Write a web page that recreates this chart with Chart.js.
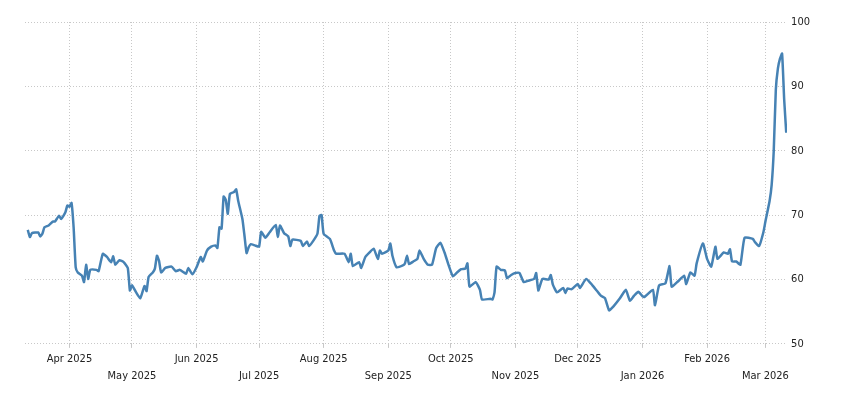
<!DOCTYPE html>
<html>
<head>
<meta charset="utf-8">
<script src="https://cdn.jsdelivr.net/npm/chart.js@4"></script>
<style>
  html, body { margin: 0; padding: 0; background: #fff; }
  #wrap { width: 850px; height: 400px; }
</style>
</head>
<body>
<div id="wrap"><canvas id="myChart" width="850" height="400"></canvas></div>
<script>
const dates = [
    "2025-03-12", "2025-03-13", "2025-03-14", "2025-03-17", "2025-03-18", "2025-03-19", "2025-03-20", "2025-03-22",
    "2025-03-24", "2025-03-25", "2025-03-27", "2025-03-28", "2025-03-30", "2025-03-31", "2025-04-01", "2025-04-02",
    "2025-04-03", "2025-04-04", "2025-04-05", "2025-04-07", "2025-04-08", "2025-04-09", "2025-04-10", "2025-04-11",
    "2025-04-14", "2025-04-15", "2025-04-17", "2025-04-19", "2025-04-21", "2025-04-22", "2025-04-23", "2025-04-25",
    "2025-04-27", "2025-04-29", "2025-04-30", "2025-05-01", "2025-05-03", "2025-05-05", "2025-05-07", "2025-05-08",
    "2025-05-09", "2025-05-11", "2025-05-12", "2025-05-13", "2025-05-14", "2025-05-15", "2025-05-17", "2025-05-20",
    "2025-05-22", "2025-05-24", "2025-05-27", "2025-05-28", "2025-05-30", "2025-06-01", "2025-06-03", "2025-06-04",
    "2025-06-06", "2025-06-08", "2025-06-10", "2025-06-11", "2025-06-12", "2025-06-13", "2025-06-14", "2025-06-15",
    "2025-06-16", "2025-06-17", "2025-06-19", "2025-06-20", "2025-06-21", "2025-06-23", "2025-06-24", "2025-06-25",
    "2025-06-26", "2025-06-27", "2025-06-29", "2025-07-01", "2025-07-02", "2025-07-04", "2025-07-06", "2025-07-09",
    "2025-07-10", "2025-07-11", "2025-07-13", "2025-07-15", "2025-07-16", "2025-07-17", "2025-07-21", "2025-07-22",
    "2025-07-24", "2025-07-25", "2025-07-27", "2025-07-29", "2025-07-30", "2025-07-31", "2025-08-01", "2025-08-04",
    "2025-08-06", "2025-08-07", "2025-08-11", "2025-08-13", "2025-08-14", "2025-08-15", "2025-08-18", "2025-08-19",
    "2025-08-21", "2025-08-23", "2025-08-25", "2025-08-27", "2025-08-28", "2025-08-29", "2025-09-01", "2025-09-02",
    "2025-09-03", "2025-09-05", "2025-09-08", "2025-09-09", "2025-09-10", "2025-09-11", "2025-09-13", "2025-09-15",
    "2025-09-16", "2025-09-18", "2025-09-20", "2025-09-22", "2025-09-24", "2025-09-26", "2025-09-28", "2025-09-30",
    "2025-10-02", "2025-10-04", "2025-10-06", "2025-10-08", "2025-10-09", "2025-10-10", "2025-10-13", "2025-10-15",
    "2025-10-16", "2025-10-20", "2025-10-21", "2025-10-22", "2025-10-23", "2025-10-25", "2025-10-27", "2025-10-28",
    "2025-10-30", "2025-11-01", "2025-11-03", "2025-11-05", "2025-11-07", "2025-11-10", "2025-11-11", "2025-11-12",
    "2025-11-14", "2025-11-17", "2025-11-18", "2025-11-19", "2025-11-21", "2025-11-24", "2025-11-25", "2025-11-26",
    "2025-11-28", "2025-12-01", "2025-12-02", "2025-12-05", "2025-12-08", "2025-12-10", "2025-12-12", "2025-12-14",
    "2025-12-16", "2025-12-18", "2025-12-21", "2025-12-24", "2025-12-26", "2025-12-28", "2025-12-30", "2026-01-01",
    "2026-01-02", "2026-01-06", "2026-01-07", "2026-01-09", "2026-01-12", "2026-01-14", "2026-01-15", "2026-01-18",
    "2026-01-21", "2026-01-22", "2026-01-24", "2026-01-26", "2026-01-27", "2026-01-30", "2026-02-01", "2026-02-03",
    "2026-02-05", "2026-02-06", "2026-02-09", "2026-02-11", "2026-02-12", "2026-02-13", "2026-02-15", "2026-02-17",
    "2026-02-19", "2026-02-23", "2026-02-24", "2026-02-26", "2026-02-28", "2026-03-01", "2026-03-03", "2026-03-04",
    "2026-03-05", "2026-03-06", "2026-03-07", "2026-03-08", "2026-03-09", "2026-03-10", "2026-03-11"
];

const prices = [
    67.7, 66.6, 67.2, 67.3, 66.7, 67.1, 68.1, 68.4,
    69.0, 69.0, 69.9, 69.4, 70.4, 71.5, 71.3, 71.9,
    68.1, 61.9, 61.1, 60.6, 59.6, 62.3, 60.1, 61.5,
    61.5, 61.3, 64.0, 63.5, 62.7, 63.6, 62.3, 63.0,
    62.7, 61.8, 58.3, 59.1, 58.0, 57.1, 59.0, 58.2,
    60.4, 61.1, 61.7, 63.7, 62.9, 61.1, 61.8, 62.0,
    61.3, 61.5, 60.9, 61.8, 60.8, 61.9, 63.5, 62.8,
    64.5, 65.1, 65.3, 64.9, 68.1, 67.9, 72.9, 72.4,
    70.2, 73.3, 73.6, 74.0, 72.2, 69.4, 66.8, 64.1,
    65.0, 65.5, 65.3, 65.1, 67.4, 66.5, 67.3, 68.5,
    66.6, 68.4, 67.2, 66.7, 65.2, 66.2, 66.0, 65.2,
    65.9, 65.2, 66.0, 67.1, 69.9, 70.0, 67.1, 66.3,
    64.5, 64.0, 64.0, 62.7, 64.0, 62.1, 62.7, 61.8,
    63.5, 64.2, 64.8, 63.2, 64.5, 64.0, 64.5, 65.6,
    63.7, 61.9, 62.2, 62.5, 63.7, 62.4, 62.8, 63.2,
    64.5, 63.2, 62.3, 62.3, 64.9, 65.7, 64.2, 62.2,
    60.5, 61.1, 61.6, 61.7, 62.5, 58.9, 59.6, 58.4,
    56.9, 57.0, 56.9, 58.0, 62.0, 61.5, 61.4, 60.2,
    60.7, 61.0, 61.0, 59.6, 59.8, 60.1, 61.0, 58.3,
    60.1, 60.0, 60.7, 59.2, 58.0, 58.7, 57.9, 58.6,
    58.5, 59.3, 58.7, 60.1, 59.1, 58.3, 57.5, 57.1,
    55.2, 55.8, 57.0, 58.4, 56.7, 57.5, 58.1, 57.4,
    57.3, 58.4, 56.0, 59.1, 59.4, 62.1, 58.9, 59.7,
    60.6, 59.3, 61.1, 60.6, 62.5, 65.6, 63.2, 62.0,
    65.1, 63.2, 64.2, 64.0, 64.7, 62.8, 62.8, 62.3,
    66.5, 66.3, 65.8, 65.2, 67.3, 69.0, 72.2, 74.7,
    80.0, 89.5, 92.8, 94.3, 95.1, 88.0, 82.8
];

const monthTicks = [
    "2025-04-01", "2025-05-01", "2025-06-01", "2025-07-01", "2025-08-01", "2025-09-01",
    "2025-10-01", "2025-11-01", "2025-12-01", "2026-01-01", "2026-02-01", "2026-03-01"
];
const monthLabels = [
    "Apr 2025", "May 2025", "Jun 2025", "Jul 2025", "Aug 2025", "Sep 2025",
    "Oct 2025", "Nov 2025", "Dec 2025", "Jan 2026", "Feb 2026", "Mar 2026"
];
const yTicks = [50, 60, 70, 80, 90, 100];

const points = dates.map((d, i) => ({ x: Date.parse(d), y: prices[i] }));
const tickTimes = monthTicks.map(d => Date.parse(d));

const fontFamily = "'DejaVu Sans Condensed', 'Liberation Sans', sans-serif";
const gridColor = "#c8c8c8";

const ctx = document.querySelector("#myChart");

new Chart(ctx, {
    type: "line",
    data: {
        datasets: [
            {
                data: points,
                borderColor: "#4682b4",
                borderWidth: 2.5,
                pointRadius: 0,
                tension: 0.15,
                fill: false
            }
        ]
    },
    options: {
        responsive: false,
        animation: false,
        layout: {
            padding: { left: 25, right: 36, top: 22, bottom: 12 }
        },
        plugins: {
            legend: { display: false },
            tooltip: { enabled: false }
        },
        scales: {
            x: {
                type: "linear",
                min: Date.parse("2025-03-10") + 16 * 3600000,
                max: Date.parse("2026-03-11") + 10 * 3600000,
                afterBuildTicks: (scale) => {
                    scale.ticks = tickTimes.map(t => ({ value: t }));
                },
                ticks: {
                    autoSkip: false,
                    maxRotation: 0,
                    padding: 3,
                    color: "#222",
                    font: { family: fontFamily, size: 11, lineHeight: 1.55 },
                    callback: (value, index) => {
                        const label = monthLabels[index];
                        return index % 2 === 0 ? [label, ""] : ["", label];
                    }
                },
                grid: {
                    color: gridColor,
                    lineWidth: 1,
                    drawTicks: true,
                    tickLength: 4
                },
                border: { display: false, dash: [1, 2] }
            },
            y: {
                position: "right",
                min: 50,
                max: 100,
                afterBuildTicks: (scale) => {
                    scale.ticks = yTicks.map(v => ({ value: v }));
                },
                ticks: {
                    padding: 4,
                    color: "#222",
                    font: { family: fontFamily, size: 11 }
                },
                grid: {
                    color: gridColor,
                    lineWidth: 1,
                    drawTicks: false
                },
                border: { display: false, dash: [1, 2] }
            }
        }
    }
});
</script>
</body>
</html>
